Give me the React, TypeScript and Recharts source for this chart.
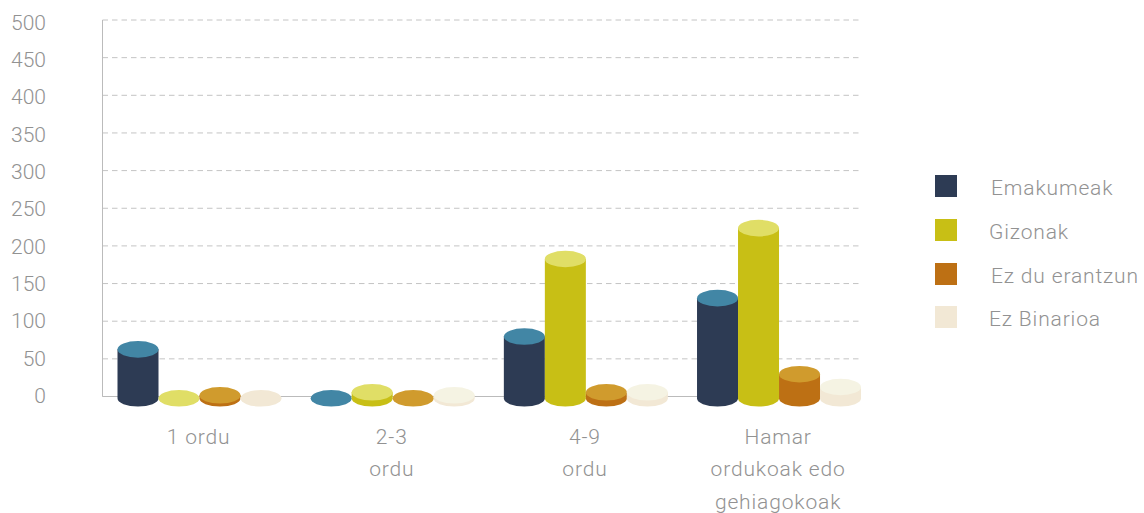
import { BarChart, Bar, XAxis, YAxis, CartesianGrid, Legend } from 'recharts';

const categories = ['1 ordu', '2-3\nordu', '4-9\nordu', 'Hamar\nordukoak edo\ngehiagokoak'];
const emakumeak = [65, 0, 82, 133];
const gizonak = [0, 8, 185, 226];
const ezDuErantzun = [4, 0, 8, 32];
const ezBinarioa = [0, 4, 8, 15];
const yTicks = [0, 50, 100, 150, 200, 250, 300, 350, 400, 450, 500];

const seriesKeys = ['emakumeak', 'gizonak', 'ezDu', 'ezBinarioa'];
const seriesNames = ['Emakumeak', 'Gizonak', 'Ez du erantzun', 'Ez Binarioa'];
const bodyColors = ['#2d3b54', '#c8bf15', '#bd7014', '#f2e8d5'];
const topColors = ['#4286a5', '#e0de66', '#d09b2d', '#f5f3e3'];
const zeroColors = ['#4286a5', '#e0de66', '#d09b2d', '#f2e8d5'];
const legendTextLeft = [56, 54, 56, 54];

const chartData = categories.map((name, i) => ({
  name,
  emakumeak: emakumeak[i],
  gizonak: gizonak[i],
  ezDu: ezDuErantzun[i],
  ezBinarioa: ezBinarioa[i],
}));

const FONT = 'Roboto, sans-serif';
const TEXT_COLOR = '#929292';

// the bars sit a little under the axis line in the original
const BASE_SHIFT = 1.8;
const RY = 8.3;

function Cylinder({ x, y, width, height, body, top, zero }: any) {
  const rx = width / 2;
  const topY = y + BASE_SHIFT;
  const bottomY = y + height + BASE_SHIFT;
  return (
    <g>
      {height > 0 && (
        <path
          d={`M${x},${topY} L${x},${bottomY} A${rx},${RY} 0 0 0 ${x + width},${bottomY} L${x + width},${topY} Z`}
          fill={body}
        />
      )}
      <ellipse cx={x + rx} cy={topY} rx={rx} ry={RY} fill={height > 0 ? top : zero} />
    </g>
  );
}

function CategoryTick({ x, payload }: any) {
  const lines = String(payload.value).split('\n');
  return (
    <text textAnchor="middle" fontFamily={FONT} fontWeight={300} fontSize={21} fill={TEXT_COLOR} style={{ letterSpacing: 0.85 }}>
      {lines.map((line, i) => (
        <tspan key={line} x={x - 0.5} y={443.5 + i * 32.5}>{line}</tspan>
      ))}
    </text>
  );
}

function ValueTick({ y, payload }: any) {
  // labels run slightly tighter than the gridlines in the original
  const labelY = 29.5 + (y - 20) * 0.992;
  return (
    <text x={46} y={labelY} textAnchor="end" fontFamily={FONT} fontWeight={300} fontSize={21} fill={TEXT_COLOR}>
      {payload.value}
    </text>
  );
}

function ChartLegend() {
  return (
    <div style={{ fontFamily: FONT, fontWeight: 300, fontSize: 21, color: TEXT_COLOR, whiteSpace: 'nowrap' }}>
      {seriesNames.map((name, i) => (
        <div key={name} style={{ position: 'relative', height: 22, marginBottom: i === 2 ? 21 : 22 }}>
          <div style={{ position: 'absolute', left: 0, top: 0, width: 22, height: 22, background: bodyColors[i] }} />
          <div style={{ position: 'absolute', left: legendTextLeft[i], top: 0, lineHeight: '26px', letterSpacing: 0.85 }}>{name}</div>
        </div>
      ))}
    </div>
  );
}

export default function App() {
  return (
    <div style={{ position: 'fixed', left: 0, top: 0, width: 1144, height: 513, background: '#fff', overflow: 'hidden' }}>
      <BarChart
        width={1144}
        height={513}
        data={chartData}
        margin={{ top: 20, right: 284, bottom: 0, left: 0 }}
        barSize={41}
        barGap={0}
      >
        <CartesianGrid vertical={false} stroke="#c4c4c4" strokeDasharray="5.5 4" />
        {/* solid baseline as a grid line, so that the bars cover it */}
        <CartesianGrid vertical={false} horizontalValues={[0]} stroke="#bbbbbb" />
        <XAxis
          dataKey="name"
          height={116.5}
          padding={{ left: 0, right: -15.2 }}
          interval={0}
          tickLine={false}
          axisLine={false}
          tick={<CategoryTick />}
        />
        <YAxis
          width={102.5}
          domain={[0, 500]}
          ticks={yTicks}
          tickLine={false}
          stroke="#bbbbbb"
          tick={<ValueTick />}
        />
        <Legend
          layout="vertical"
          align="center"
          verticalAlign="middle"
          wrapperStyle={{ left: 935, top: 175, width: 209, right: 'auto', bottom: 'auto' }}
          content={<ChartLegend />}
        />
        {seriesKeys.map((key, i) => (
          <Bar
            key={key}
            dataKey={key}
            name={seriesNames[i]}
            fill={bodyColors[i]}
            isAnimationActive={false}
            shape={<Cylinder body={bodyColors[i]} top={topColors[i]} zero={zeroColors[i]} />}
          />
        ))}
      </BarChart>
    </div>
  );
}
